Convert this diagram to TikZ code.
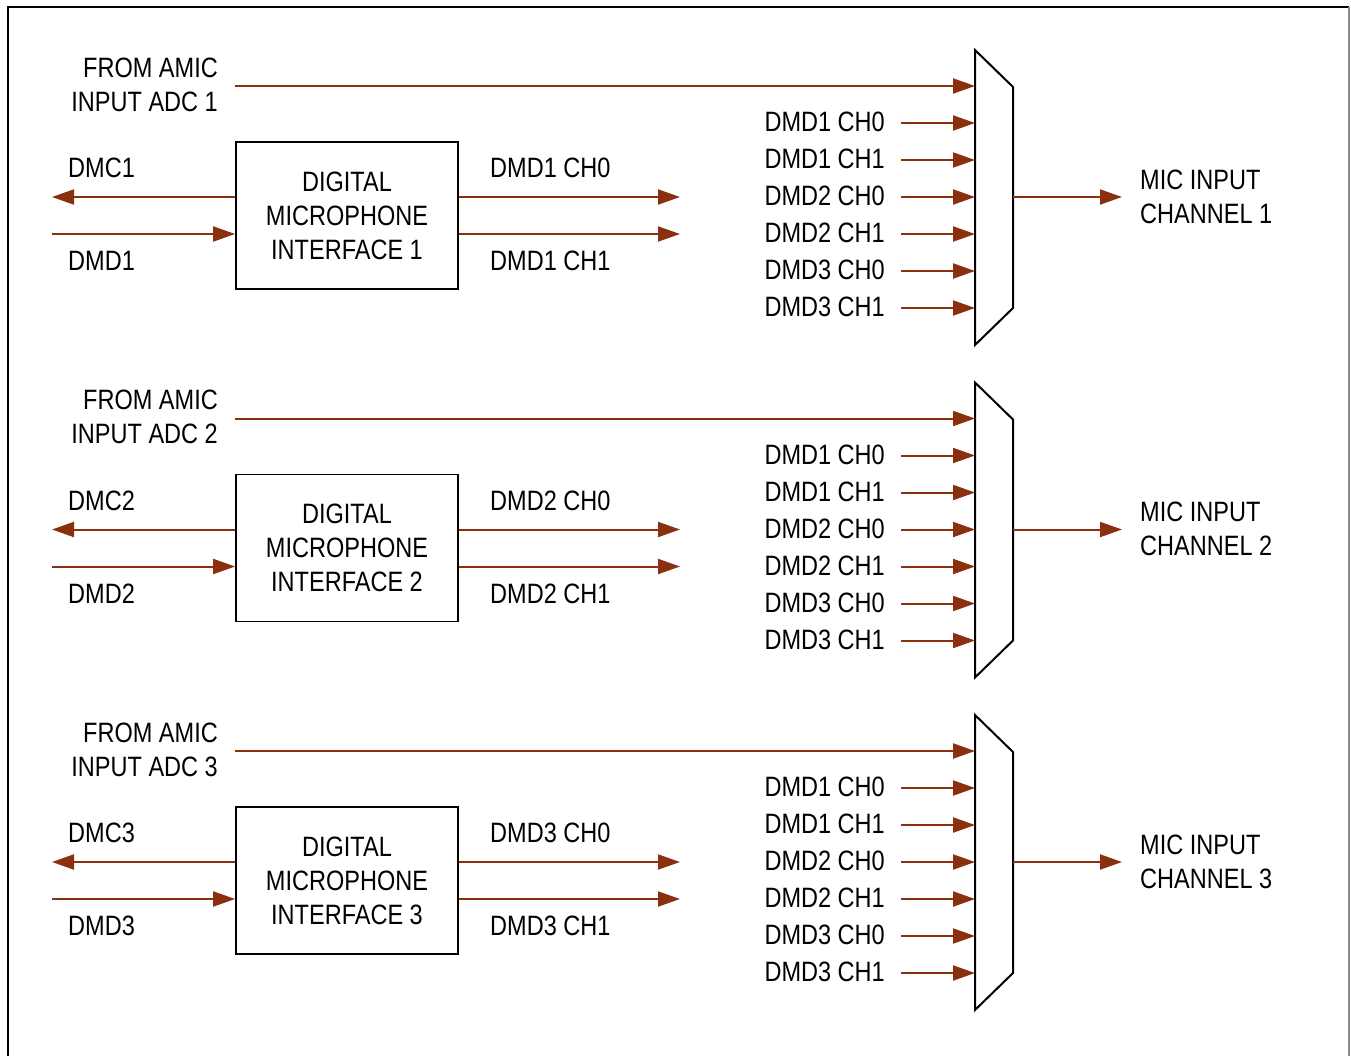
\documentclass[tikz,border=0pt]{standalone}
\usepackage{fontspec}
\setmainfont{Liberation Sans}[FakeStretch=0.84]
\usepackage{xcolor}
\usetikzlibrary{arrows.meta, positioning}

\definecolor{sigbrown}{RGB}{138,48,14}

\begin{document}
\begin{tikzpicture}[
    x=1pt, y=-1pt,
    every node/.style={font=\fontsize{28}{34}\selectfont, inner sep=0pt},
    ifbox/.style={draw, line width=1.8pt, minimum width=222pt, minimum height=147pt, align=center},
    mux/.style={draw, line width=2pt, line join=miter},
    sig/.style={draw=sigbrown, line width=2pt, -{Triangle[length=22pt, width=15pt]}},
    frame/.style={draw, line width=1.5pt},
]
\useasboundingbox (0,0) rectangle (1351,1055);

% === Outer frame ===
\draw[frame] (8,1070) -- (8,7) -- (1349,7);
\draw[frame, draw=black!45] (1349,7) -- (1349,1070);

% === Three channel blocks ===
\foreach \b [evaluate=\b as \o using (\b-1)*332.5] in {1,2,3} {

  % interface block
  \node[ifbox] (box\b) at (347,215.5+\o) {DIGITAL\\MICROPHONE\\INTERFACE \b};

  % mux shape and its ports
  \draw[mux] (975,50+\o) -- (1013,87+\o) -- (1013,308+\o) -- (975,345+\o) -- cycle;
  \coordinate (ain\b) at (975,86+\o);
  \coordinate (mout\b) at (1013,197+\o);

  % analog input
  \node[anchor=east, align=right] (amic\b) at (218,84.5+\o) {FROM AMIC\\INPUT ADC \b};
  \draw[sig] (box\b.west |- ain\b) -- (ain\b);

  % clock out / data in
  \coordinate (dmc\b) at (52,197+\o);
  \coordinate (dmd\b) at (52,234+\o);
  \node[anchor=west] (dmclbl\b) at (68,168+\o) {DMC\b};
  \node[anchor=west] (dmdlbl\b) at (68,261+\o) {DMD\b};
  \draw[sig] (box\b.west |- dmc\b) -- (dmc\b);
  \draw[sig] (dmd\b) -- (box\b.west |- dmd\b);

  % decoded channels
  \coordinate (ch0\b) at (680,197+\o);
  \coordinate (ch1\b) at (680,234+\o);
  \node[anchor=west] (ch0lbl\b) at (490,168+\o) {DMD\b\ CH0};
  \node[anchor=west] (ch1lbl\b) at (490,261+\o) {DMD\b\ CH1};
  \draw[sig] (box\b.east |- ch0\b) -- (ch0\b);
  \draw[sig] (box\b.east |- ch1\b) -- (ch1\b);

  % mux digital inputs
  \foreach \lab [count=\k] in {DMD1 CH0, DMD1 CH1, DMD2 CH0, DMD2 CH1, DMD3 CH0, DMD3 CH1} {
    \coordinate (min\b\k) at (975,86+37*\k+\o);
    \node[anchor=east] (minlbl\b\k) at (885,85+37*\k+\o) {\lab};
    \draw[sig] ([xshift=16pt]minlbl\b\k.east |- min\b\k) -- (min\b\k);
  }

  % output
  \coordinate (mic\b) at (1122,197+\o);
  \draw[sig] (mout\b) -- (mic\b);
  \node[anchor=west, align=left] (miclbl\b) at (1140,196.5+\o) {MIC INPUT\\CHANNEL \b};
}

\end{tikzpicture}
\end{document}
